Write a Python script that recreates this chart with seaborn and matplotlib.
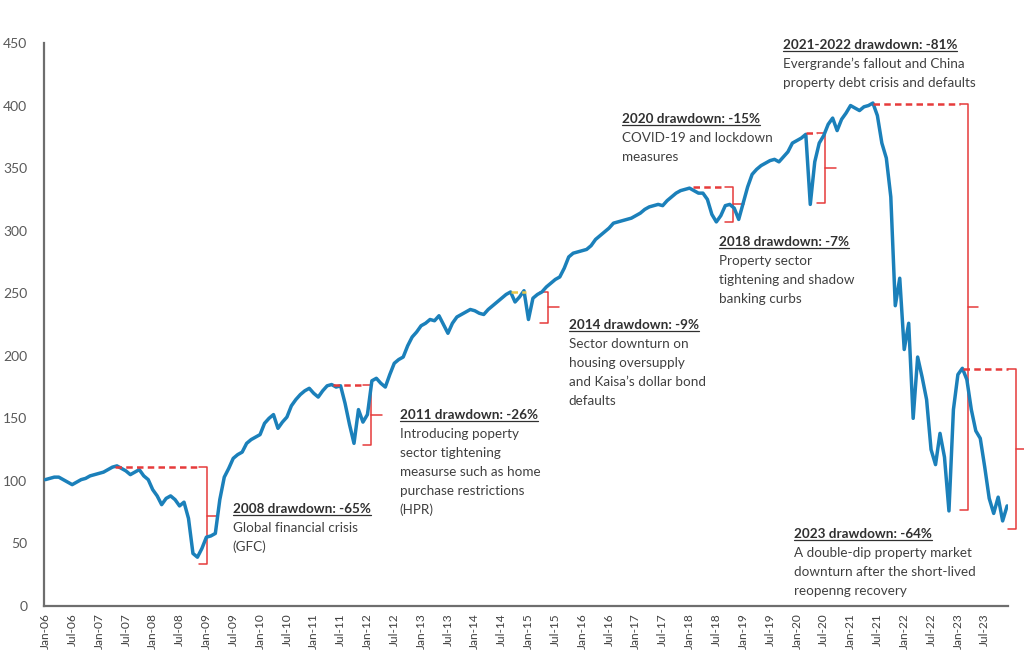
import matplotlib
matplotlib.use("Agg")
import matplotlib.pyplot as plt
from matplotlib.lines import Line2D
import numpy as np
import pandas as pd
import seaborn as sns

# ---------------- data (monthly index level, Jan-06 .. Dec-23) ----------------
index_values = [
    101, 102, 103, 103, 101, 99, 97, 99, 101, 102, 104, 105,      # 2006
    106, 107, 109, 111, 112, 110, 108, 105, 107, 109, 104, 101,   # 2007
    93, 88, 81, 86, 88, 85, 80, 83, 70, 42, 39, 46,               # 2008
    55, 56, 58, 85, 103, 110, 118, 121, 123, 130, 133, 135,       # 2009
    137, 146, 150, 153, 142, 147, 151, 160, 165, 169, 172, 174,   # 2010
    170, 167, 172, 176, 177, 175, 176, 162, 145, 130, 157, 147,   # 2011
    153, 180, 182, 178, 175, 185, 194, 197, 199, 208, 215, 219,   # 2012
    224, 226, 229, 228, 232, 225, 218, 226, 231, 233, 235, 237,   # 2013
    236, 234, 233, 237, 240, 243, 246, 249, 251, 243, 247, 252,   # 2014
    229, 246, 249, 251, 255, 258, 261, 263, 270, 279, 282, 283,   # 2015
    284, 285, 288, 293, 296, 299, 302, 306, 307, 308, 309, 310,   # 2016
    312, 314, 317, 319, 320, 321, 320, 324, 327, 330, 332, 333,   # 2017
    334, 332, 330, 330, 325, 313, 307, 312, 320, 321, 318, 309,   # 2018
    322, 335, 345, 349, 352, 354, 356, 357, 355, 359, 363, 370,   # 2019
    372, 374, 377, 321, 355, 370, 376, 385, 390, 380, 389, 394,   # 2020
    400, 398, 396, 399, 400, 402, 392, 370, 358, 327, 240, 262,   # 2021
    205, 226, 150, 199, 183, 165, 125, 113, 138, 119, 76, 157,    # 2022
    185, 190, 181, 157, 140, 134, 111, 86, 74, 87, 68, 80,        # 2023
]
month_index = list(range(len(index_values)))

years = list(range(2006, 2024))
tick_labels = [f"{mon}-{y % 100:02d}" for y in years for mon in ("Jan", "Jul")]
tick_months = list(range(0, 216, 6))
y_ticks = [0, 50, 100, 150, 200, 250, 300, 350, 400, 450]

# drawdown annotations
dd_titles = [
    "2008 drawdown: -65%",
    "2011 drawdown: -26%",
    "2014 drawdown: -9%",
    "2018 drawdown: -7%",
    "2020 drawdown: -15%",
    "2021-2022 drawdown: -81%",
    "2023 drawdown: -64%",
]
dd_bodies = [
    ["Global financial crisis", "(GFC)"],
    ["Introducing poperty", "sector tightening", "measurse such as home",
     "purchase restrictions", "(HPR)"],
    ["Sector downturn on", "housing oversupply", "and Kaisa\u2019s dollar bond", "defaults"],
    ["Property sector", "tightening and shadow", "banking curbs"],
    ["COVID-19 and lockdown", "measures"],
    ["Evergrande\u2019s fallout and China", "property debt crisis and defaults"],
    ["A double-dip property market", "downturn after the short-lived", "reopenng recovery"],
]
# layout of annotations (month index, index level)
text_month = [41.9, 79.2, 117.0, 150.5, 128.8, 164.8, 167.3]
text_level = [74.3, 149.5, 221.4, 287.8, 386.1, 445.2, 54.4]
peak_month = [15.6, 64.3, 104.1, 144.7, 170.1, 185.0, 205.1]
brace_month = [36.1, 72.9, 112.4, 153.7, 174.4, 206.2, 217.0]
brace_top = [111, 176.7, 251.3, 334.7, 378.4, 401.3, 189.2]
brace_bottom = [33.6, 128.7, 226, 307.2, 321.9, 76.7, 61.3]

# ---------------- style ----------------
sns.set_style("white")
plt.rcParams["font.family"] = ["Lato", "DejaVu Sans"]

LINE = "#1b80ba"
RED = "#e63b3b"
GOLD = "#e8c84a"
AX = "#6e6e6e"
TXT = "#404040"

fig = plt.figure(figsize=(10.24, 6.72), dpi=100)
ax = fig.add_axes([44 / 1024, 66 / 672, (1008 - 44) / 1024, (629 - 66) / 672])

df = pd.DataFrame({"month": month_index, "index": index_values})
sns.lineplot(data=df, x="month", y="index", ax=ax, color=LINE, linewidth=2.5, zorder=3)

ax.set_xlim(-0.3, 215.2)
ax.set_ylim(0, 450)
ax.set_xlabel("")
ax.set_ylabel("")
ax.set_xticks(tick_months)
ax.set_xticklabels(tick_labels, rotation=90, fontsize=8.6, color=TXT)
ax.set_yticks(y_ticks)
ax.set_yticklabels([str(v) for v in y_ticks], fontsize=10, color="#595959")
ax.tick_params(axis="y", length=0, pad=12)
ax.tick_params(axis="x", direction="inout", length=6, width=1, color=AX, pad=2)
for s in ("top", "right"):
    ax.spines[s].set_visible(False)
for s in ("left", "bottom"):
    ax.spines[s].set_color(AX)
    ax.spines[s].set_linewidth(1.6)
ax.grid(False)

# ---------------- drawdown markers ----------------
hook = 1.8
tick_w = 2.4
for i in range(len(dd_titles)):
    bx, top, bot = brace_month[i], brace_top[i], brace_bottom[i]
    col = GOLD if i == 2 else RED
    end = (107.5 if i == 2 else bx - hook)
    ax.plot([peak_month[i], end], [top, top], color=col, lw=1.8,
            linestyle=(0, (2.6, 1.7)), zorder=4, clip_on=False)
    mid = (top + bot) / 2
    ax.plot([bx - hook, bx, bx, bx - hook], [top, top, bot, bot],
            color=RED, lw=1.1, zorder=2, clip_on=False)
    ax.plot([bx, bx + tick_w], [mid, mid], color=RED, lw=1.1, zorder=2, clip_on=False)

titles = []
for i in range(len(dd_titles)):
    t = ax.text(text_month[i], text_level[i], dd_titles[i], fontsize=9.7,
                fontweight="bold", color="#303030", va="baseline", ha="left", zorder=5)
    titles.append(t)
    for k, line in enumerate(dd_bodies[i], start=1):
        ax.annotate(line, xy=(text_month[i], text_level[i]), xytext=(0, -13.7 * k),
                    textcoords="offset points", fontsize=9.7, color=TXT,
                    va="baseline", ha="left", zorder=5)

fig.canvas.draw()
inv = fig.transFigure.inverted()
for i, t in enumerate(titles):
    bb = t.get_window_extent()
    base_y = ax.transData.transform((text_month[i], text_level[i]))[1] - 2.2
    (fx0, fy), (fx1, _) = inv.transform([(bb.x0, base_y), (bb.x1, base_y)])
    fig.add_artist(Line2D([fx0, fx1], [fy, fy], color="#303030", lw=0.9))

fig.savefig("out.png", dpi=100)
